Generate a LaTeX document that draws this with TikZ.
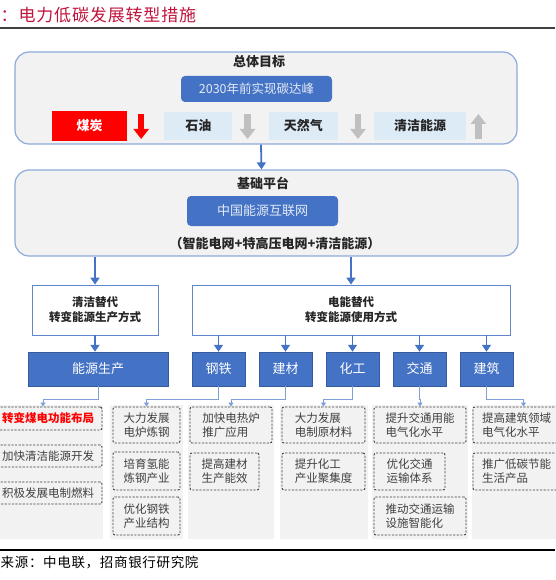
\documentclass[tikz,border=0pt]{standalone}
\usepackage{fontspec}
\setmainfont{Noto Sans CJK SC}
\newfontfamily\spaced{Noto Sans CJK SC}[LetterSpace=5]
\usepackage{tikz}
\usetikzlibrary{arrows.meta,positioning,calc}
\definecolor{barblue}{HTML}{4472C4}
\definecolor{edge}{HTML}{8EA9DB}
\definecolor{panel}{HTML}{F2F2F2}
\definecolor{pale}{HTML}{DDEBF7}
\definecolor{ink}{HTML}{262626}
\definecolor{note}{HTML}{404040}
\definecolor{crimson}{HTML}{C0143C}
\definecolor{hair}{HTML}{7F9FDB}
\definecolor{fade}{HTML}{BFBFBF}

\begin{document}
\begin{tikzpicture}[x=1pt,y=-1pt,
  p/.style={draw=edge,line width=1.2pt,fill=panel,rounded corners=14pt,inner sep=0pt},
  h/.style={fill=barblue,rounded corners=4pt,text=white!85!barblue,font=\fontsize{12.5}{15}\selectfont},
  e/.style={fill=pale,minimum height=28pt,inner sep=0pt,text=ink,font=\bfseries\fontsize{13}{15}\selectfont},
  c/.style={draw=barblue!85,line width=0.8pt,fill=white,align=center,minimum height=50pt,
            text=ink,font=\bfseries\fontsize{11.5}{15}\selectfont},
  s/.style={draw=barblue!80!black,line width=0.5pt,fill=barblue,text=white,minimum height=34pt,
            inner sep=0pt,font=\fontsize{13}{15}\selectfont},
  g/.style={fill=panel,inner sep=0pt,minimum height=134pt},
  m/.style={draw=note,line width=0.9pt,dash pattern=on 2.2pt off 1.4pt,rounded corners=2pt,fill=panel,
            align=left,inner sep=0pt,text=note,font=\fontsize{11.5}{14}\selectfont},
  a/.style={-{Triangle[length=7pt,width=9pt]},line width=1.8pt,draw=barblue},
  t/.style={-{Triangle[length=4pt,width=5pt]},line width=0.7pt,draw=hair},
  u/.style={line width=6.5pt,-{Triangle[length=10pt,width=15pt]}}
]
  \useasboundingbox (0,0) rectangle (555,580);
  % heading
  \node[anchor=west,inner sep=0pt,text=crimson,font=\spaced\fontsize{17}{20}\selectfont] (title) at (0.5,15) {：电力低碳发展转型措施};
  \draw[note,line width=1.3pt] (0,28) -- (555,28);

  % overall goal
  \node[p,minimum width=502pt,minimum height=92pt] (goal) at (266,98) {};
  \node[text=ink,font=\bfseries\fontsize{13}{15}\selectfont] (goaltxt) at (259,62) {总体目标};
  \node[h,minimum width=151pt,minimum height=26pt] (peak) at (256.5,89) {2030年前实现碳达峰};
  \node[fill=red,minimum width=75pt,minimum height=30pt,text=white,font=\bfseries\fontsize{13}{15}\selectfont] (coal) at (89.5,126) {煤炭};
  \node[e,minimum width=68pt,right=37pt of coal.east,anchor=west] (oil) {石油};
  \node[e,minimum width=69pt,right=36pt of oil] (gas) {天然气};
  \node[e,minimum width=92pt,right=36pt of gas] (green) {清洁能源};
  \draw[u,red] ($(coal.east)+(14,-12)$) -- ($(coal.east)+(14,13)$);
  \draw[u,fade] ($(oil.east)+(15,-12)$) -- ($(oil.east)+(15,13)$);
  \draw[u,fade] ($(gas.east)+(20,-12)$) -- ($(gas.east)+(20,13)$);
  \draw[u,fade] ($(green.east)+(12,13)$) -- ($(green.east)+(12,-12)$);

  % platform
  \node[p,minimum width=503pt,minimum height=86pt] (base) at (266.5,213) {};
  \node[text=ink,font=\bfseries\fontsize{13}{15}\selectfont] (basetxt) at (263,183) {基础平台};
  \node[h,minimum width=151pt,minimum height=30pt,font=\fontsize{13}{15}\selectfont] (grid) at (262.5,211) {中国能源互联网};
  \node[text=ink,font=\bfseries\fontsize{13}{15}\selectfont] (mix) at (275,244) {（智能电网+特高压电网+清洁能源）};
  \draw[a] ($(goal.south)+(-5,0)$) -- ($(base.north)+(-5,0)$);

  % two routes
  \node[c,minimum width=126pt] (clean) at (95,310) {清洁替代\\转变能源生产方式};
  \node[c,minimum width=318pt] (elec) at (351,310) {电能替代\\转变能源使用方式};
  \draw[a] (clean.north |- base.south) -- (clean.north);
  \draw[a] (elec.north |- base.south) -- (elec.north);

  % sectors
  \node[s,minimum width=140pt] (prod) at (98,369) {能源生产};
  \node[s,minimum width=53pt] (steel) at (218.5,369) {钢铁};
  \node[s,minimum width=53pt,right=13.5pt of steel] (mat) {建材};
  \node[s,minimum width=53pt,right=13.5pt of mat] (chem) {化工};
  \node[s,minimum width=53pt,right=13.5pt of chem] (traffic) {交通};
  \node[s,minimum width=53pt,right=13.5pt of traffic] (house) {建筑};
  \draw[a] (clean.south) -- (clean.south |- prod.north);
  \foreach \n in {steel,mat,chem,traffic,house}
    \draw[a] (elec.south -| \n) -- (\n.north);

  % measures
  \foreach \n/\x/\w in {1/46.5/113,2/146.5/73,3/231/86,4/324/88,5/420/96,6/521/98}
    \node[g,minimum width=\w pt] (col\n) at (\x,472) {};
  \node[m,minimum width=108pt,minimum height=23pt,align=center,text=red,font=\bfseries\fontsize{11.5}{14}\selectfont] (m11) at (48,418.5) {转变煤电功能布局};
  \node[m,minimum width=108pt,minimum height=22pt,align=center] (m12) at (48,456) {加快清洁能源开发};
  \node[m,minimum width=108pt,minimum height=22pt,align=center] (m13) at (48,493) {积极发展电制燃料};
  \node[m,minimum width=67pt,minimum height=36pt] (m21) at (146.5,425) {大力发展\\电炉炼钢};
  \node[m,minimum width=67pt,minimum height=38pt] (m22) at (146.5,471) {培育氢能\\炼钢产业};
  \node[m,minimum width=67pt,minimum height=38pt] (m23) at (146.5,516) {优化钢铁\\产业结构};
  \node[m,minimum width=82pt,minimum height=36pt] (m31) at (231,425) {加快电热炉\\推广应用};
  \node[m,minimum width=69pt,minimum height=37pt] (m32) at (224.5,471.5) {提高建材\\生产能效};
  \node[m,minimum width=83pt,minimum height=36pt] (m41) at (323.5,425) {大力发展\\电制原材料};
  \node[m,minimum width=83pt,minimum height=37pt] (m42) at (323.5,471.5) {提升化工\\产业聚集度};
  \node[m,minimum width=92pt,minimum height=36pt] (m51) at (420,425) {提升交通用能\\电气化水平};
  \node[m,minimum width=71pt,minimum height=37pt] (m52) at (409.5,471.5) {优化交通\\运输体系};
  \node[m,minimum width=92pt,minimum height=38pt] (m53) at (420,516) {推动交通运输\\设施智能化};
  \node[m,minimum width=87pt,minimum height=36pt] (m61) at (516.5,425) {提高建筑领域\\电气化水平};
  \node[m,minimum width=87pt,minimum height=37pt] (m62) at (516.5,471.5) {推广低碳节能\\生活产品};
  \draw[t] (prod.south) -- ++(0,13) -| ($(m11.north)+(-5,0)$);
  \draw[t] (steel.south) -- ++(0,13) -| (m21.north);
  \draw[t] (mat.south) -- ++(0,13) -| (m31.north);
  \draw[t] (chem.south) -- ++(0,13) -| (m41.north);
  \draw[t] (traffic.south) -- ++(0,13) -| (m51.north);
  \draw[t] (house.south) -- ++(0,13) -| ($(m61.north)+(7,0)$);

  % source line
  \draw[black,line width=1.3pt] (0,550) -- (555,550);
  \node[anchor=west,inner sep=0pt,text=black,font=\spaced\fontsize{13.5}{16}\selectfont] (src) at (0.5,562) {来源：中电联，招商银行研究院};
\end{tikzpicture}
\end{document}
